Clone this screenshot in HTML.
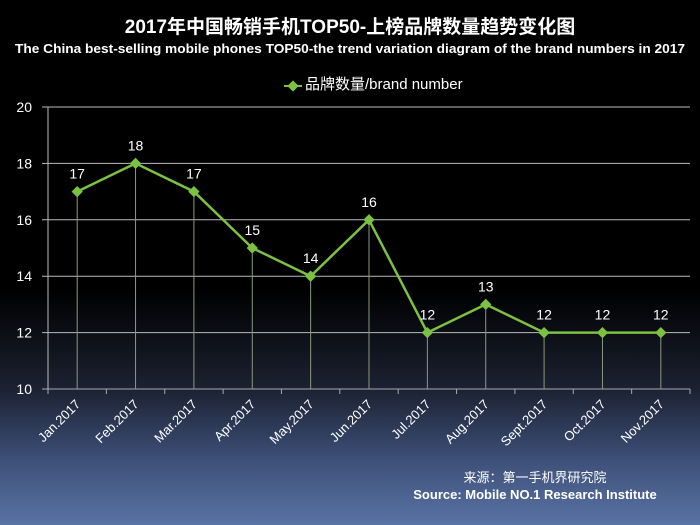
<!DOCTYPE html>
<html><head><meta charset="utf-8"><style>
html,body{margin:0;padding:0}
body{width:700px;height:525px;overflow:hidden;background:linear-gradient(to bottom,#000 0px,#000 290px,#1c2232 390px,#3d5078 460px,#5a73a5 525px);font-family:"Liberation Sans","Noto Sans CJK SC",sans-serif}
svg{display:block}
</style></head><body>
<svg width="700" height="525">
<text x="350" y="33" text-anchor="middle" fill="#fff" font-size="19" font-weight="bold" font-family="Liberation Sans,Noto Sans CJK SC,sans-serif">2017年中国畅销手机TOP50-上榜品牌数量趋势变化图</text>
<text x="350" y="53" text-anchor="middle" fill="#fff" font-size="13" font-weight="bold" textLength="670" lengthAdjust="spacingAndGlyphs">The China best-selling mobile phones TOP50-the trend variation diagram of the brand numbers in 2017</text>
<g>
<line x1="284" y1="86" x2="302" y2="86" stroke="#7cc142" stroke-width="2"/>
<rect x="289" y="82" width="8" height="8" fill="#7cc142" transform="rotate(45 293 86)"/>
<text x="305" y="89" fill="#fff" font-size="15" font-family="Liberation Sans,Noto Sans CJK SC,sans-serif">品牌数量/brand number</text>
</g>
<g id="plot"></g>
<text x="535" y="482" text-anchor="middle" fill="#fff" font-size="13" font-family="Liberation Sans,Noto Sans CJK SC,sans-serif">来源：第一手机界研究院</text>
<text x="535" y="499" text-anchor="middle" fill="#fff" font-size="13" font-weight="bold">Source: Mobile NO.1 Research Institute</text>
</svg>
<script>
const categories=["Jan.2017","Feb.2017","Mar.2017","Apr.2017","May.2017","Jun.2017","Jul.2017","Aug.2017","Sept.2017","Oct.2017","Nov.2017"];
const values=[17,18,17,15,14,16,12,13,12,12,12];
const yTicks=[10,12,14,16,18,20];
const NS="http://www.w3.org/2000/svg";
const g=document.getElementById('plot');
const X0=48,X1=690,Y0=389,Y1=107,yMin=10,yMax=20;
const bw=(X1-X0)/categories.length;
const xs=i=>X0+bw*(i+0.5);
const ys=v=>Y0-(v-yMin)/(yMax-yMin)*(Y0-Y1);
function mk(t,a){const e=document.createElementNS(NS,t);for(const k in a)e.setAttribute(k,a[k]);g.appendChild(e);return e;}
yTicks.forEach(v=>{
 const l=mk('line',{x1:X0-6,x2:X1,y1:ys(v),y2:ys(v),stroke:v===yMin?'#aaa':'#bbb','stroke-width':1});
 
 
 const t=mk('text',{x:X0-16,y:ys(v)+5,'text-anchor':'end',fill:'#fff','font-size':14});
 t.textContent=v;
 
 
});
const ax=mk('line',{x1:X0,x2:X0,y1:Y1,y2:Y0,stroke:'#bbb','stroke-width':1});


for(let i=0;i<=categories.length;i++){
 const tk=mk('line',{x1:X0+bw*i,x2:X0+bw*i,y1:Y0,y2:Y0+5,stroke:'#aaa'});
 
 
}
values.forEach((v,i)=>{
 const d=mk('line',{x1:xs(i),x2:xs(i),y1:ys(v),y2:Y0,stroke:'#8a9a80','stroke-width':1});
 
 
});
const pl=mk('polyline',{points:values.map((v,i)=>xs(i)+','+ys(v)).join(' '),fill:'none',stroke:'#7cc142','stroke-width':2.5});


values.forEach((v,i)=>{
 const m=mk('rect',{x:xs(i)-4,y:ys(v)-4,width:8,height:8,fill:'#7cc142',transform:`rotate(45 ${xs(i)} ${ys(v)})`});
 
 
 const t=mk('text',{x:xs(i),y:ys(v)-13,'text-anchor':'middle',fill:'#fff','font-size':14});
 t.textContent=v;
 
 
 const c=mk('text',{x:xs(i)+4,y:Y0+16,'text-anchor':'end',fill:'#fff','font-size':13,transform:`rotate(-45 ${xs(i)+4} ${Y0+16})`});
 c.textContent=categories[i];
 
 
});
</script>
</body></html>
